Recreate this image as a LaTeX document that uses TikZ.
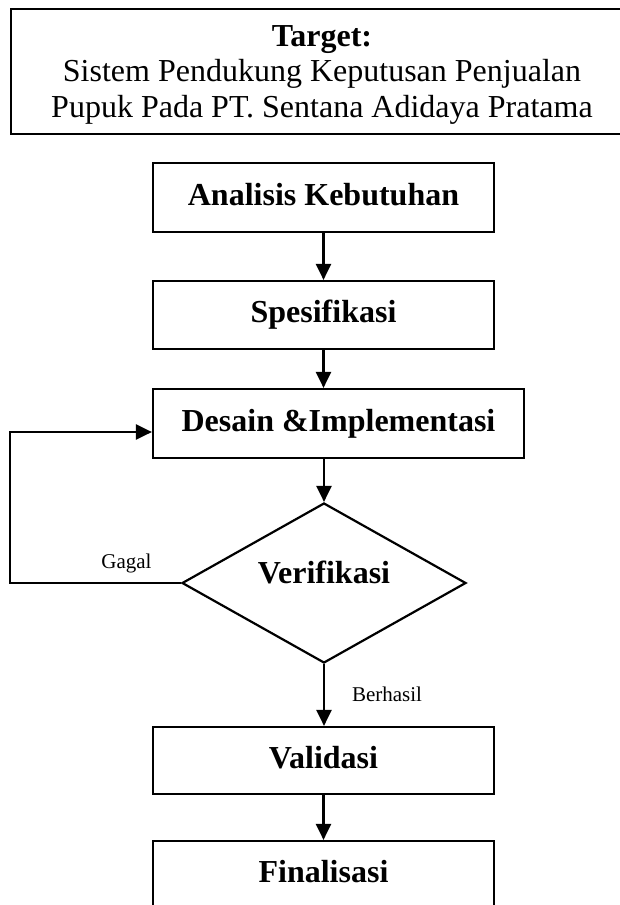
\documentclass[tikz,border=0pt]{standalone}
\usepackage{fontspec}
\setmainfont{Liberation Serif}
\usetikzlibrary{arrows.meta,shapes.geometric}
\begin{document}
\begin{tikzpicture}[x=1pt,y=-1pt,line width=2.2pt,
  box/.style={draw,rectangle,inner sep=0pt,line width=2.2pt,
    text height=22pt,text depth=7pt,
    font=\fontsize{32}{35}\selectfont\bfseries},
  arr/.style={-{Triangle[length=16pt,width=15pt]},line width=2.2pt},
  lbl/.style={inner sep=0pt,font=\fontsize{21}{24}\selectfont}]
\useasboundingbox (0,0) rectangle (620,905);
\clip (0,0) rectangle (620,905);
% title box (right side cut off by the picture edge)
\draw (11,9) rectangle (650,134);
\node[align=center,inner sep=0pt,font=\fontsize{32}{35.5}\selectfont] (title) at (322,74.5)
  {\textbf{Target:}\\Sistem Pendukung Keputusan Penjualan\\Pupuk Pada PT. Sentana Adidaya Pratama};
% flow boxes
\node[box,minimum width=341pt,minimum height=69pt] (ana) at (323.5,197.5) {Analisis Kebutuhan};
\node[box,minimum width=341pt,minimum height=68pt] (spe) at (323.5,315) {Spesifikasi};
\node[box,minimum width=371pt,minimum height=69pt] (des) at (338.5,423.5) {Desain \&Implementasi};
\node[draw,diamond,inner sep=0pt,aspect=1.775,minimum width=284pt,minimum height=160pt,line width=2.2pt] (ver) at (324,583) {};
\node[inner sep=0pt,font=\fontsize{32}{35}\selectfont\bfseries] (vertxt) at (324,572) {Verifikasi};
\node[box,minimum width=341pt,minimum height=67pt] (val) at (323.5,760.5) {Validasi};
\node[box,minimum width=341pt,minimum height=68pt] (fin) at (323.5,875) {Finalisasi};
% connectors
\draw[arr] (ana.south) -- (spe.north);
\draw[arr] (spe.south) -- (spe.south |- des.north);
\draw[arr] (ver.north |- des.south) -- (ver.north);
\draw[arr] (ver.south) -- (val.north -| ver.south);
\draw[arr] (val.south) -- (fin.north);
\coordinate (loopL) at (10,583);
\draw[arr] (ver.west) -- (loopL) |- ([yshift=-8.5pt]des.west);
% labels
\node[lbl] (gagal) at (126.5,563) {Gagal};
\node[lbl] (berhasil) at (387,694) {Berhasil};
\end{tikzpicture}
\end{document}
